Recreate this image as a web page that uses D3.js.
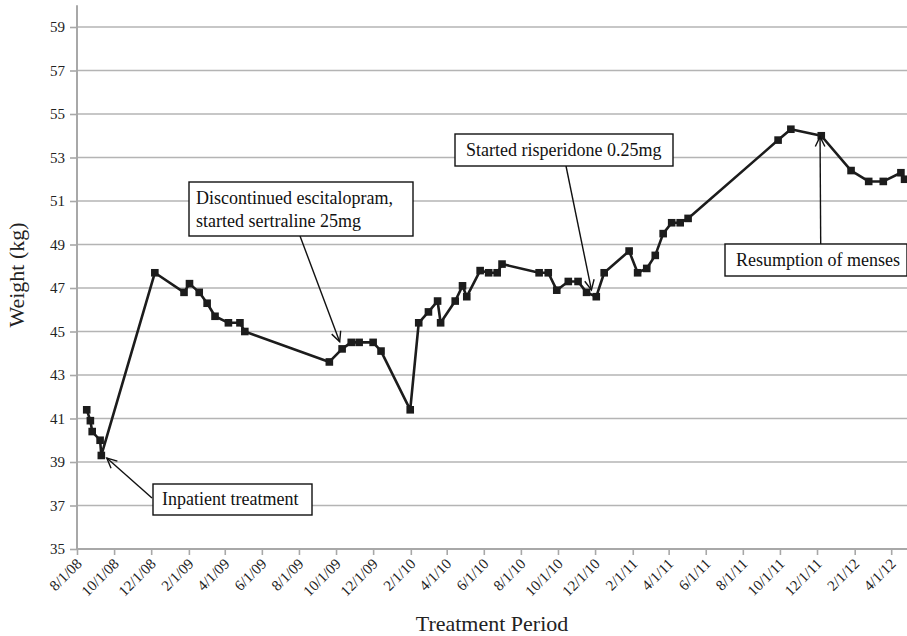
<!DOCTYPE html>
<html>
<head>
<meta charset="utf-8">
<script src="https://cdn.jsdelivr.net/npm/d3@7"></script>
<style>
  html, body { margin: 0; padding: 0; background: #fff; }
  svg { display: block; font-family: "Liberation Serif", "Times New Roman", serif; }
  svg text { font-family: "Liberation Serif", "Times New Roman", serif; }
</style>
</head>
<body>
<svg id="chart" width="907" height="636"></svg>
<script>
// ---- Data ----
const dates = ["2008-08-17","2008-08-23","2008-08-26","2008-09-08","2008-09-10","2008-12-07",
  "2009-01-24","2009-02-02","2009-02-18","2009-03-03","2009-03-16","2009-04-07","2009-04-26","2009-05-04",
  "2009-09-20","2009-10-11","2009-10-26","2009-11-08","2009-12-01","2009-12-14",
  "2010-01-31","2010-02-14","2010-03-02","2010-03-17","2010-03-22","2010-04-15","2010-04-27","2010-05-04",
  "2010-05-26","2010-06-09","2010-06-23","2010-07-01","2010-08-31","2010-09-15","2010-09-29","2010-10-18",
  "2010-11-03","2010-11-17","2010-12-03","2010-12-16",
  "2011-01-26","2011-02-09","2011-02-24","2011-03-10","2011-03-23","2011-04-06","2011-04-20","2011-05-03",
  "2011-09-28","2011-10-19","2011-12-08",
  "2012-01-26","2012-02-24","2012-03-19","2012-04-17","2012-04-23"];
const weights = [41.4,40.9,40.4,40.0,39.3,47.7,
  46.8,47.2,46.8,46.3,45.7,45.4,45.4,45.0,
  43.6,44.2,44.5,44.5,44.5,44.1,
  41.4,45.4,45.9,46.4,45.4,46.4,47.1,46.6,
  47.8,47.7,47.7,48.1,47.7,47.7,46.9,47.3,
  47.3,46.8,46.6,47.7,
  48.7,47.7,47.9,48.5,49.5,50.0,50.0,50.2,
  53.8,54.3,54.0,
  52.4,51.9,51.9,52.3,52.0];
const xTickDates = ["2008-08-01","2008-10-01","2008-12-01","2009-02-01","2009-04-01","2009-06-01",
  "2009-08-01","2009-10-01","2009-12-01","2010-02-01","2010-04-01","2010-06-01","2010-08-01",
  "2010-10-01","2010-12-01","2011-02-01","2011-04-01","2011-06-01","2011-08-01","2011-10-01",
  "2011-12-01","2012-02-01","2012-04-01"];
const yTicks = [35,37,39,41,43,45,47,49,51,53,55,57,59];
const xTitle = "Treatment Period";
const yTitle = "Weight (kg)";
const annotTexts = [["Inpatient treatment"], ["Discontinued escitalopram,", "started sertraline 25mg"],
  ["Started risperidone 0.25mg"], ["Resumption of menses"]];
const annotTipDates = ["2008-09-19", "2009-10-07", "2010-11-25", "2011-12-06"];
const annotTipWeights = [39.18, 44.53, 46.91, 53.96];

// ---- Layout ----
const FONT = "Liberation Serif, Times New Roman, serif";
const parse = d3.timeParse("%Y-%m-%d");
const fmt = d3.timeFormat("%-m/%-d/%y");
const svg = d3.select("#chart");
const x = d3.scaleTime().domain([parse("2008-08-01"), parse("2012-04-27")]).range([77, 907]);
const y = d3.scaleLinear().domain([35, 60]).range([549, 5.25]);
const points = dates.map((d, i) => ({ date: parse(d), w: weights[i] }));

const gridColor = "#b4b4b4";
const axisColor = "#a8a8a8";

// gridlines
svg.append("g").selectAll("line").data(yTicks.filter(t => t > 35)).join("line")
  .attr("x1", 77).attr("x2", 907)
  .attr("y1", d => y(d)).attr("y2", d => y(d))
  .attr("stroke", gridColor).attr("stroke-width", 1.6);

// y axis
const yAxis = d3.axisLeft(y).tickValues(yTicks).tickSize(7).tickPadding(5).tickFormat(d3.format("d"));
const gy = svg.append("g").attr("transform", "translate(77,0)").call(yAxis)
  .attr("font-family", FONT).attr("font-size", 15);
gy.select(".domain").attr("stroke", axisColor).attr("stroke-width", 2).attr("d", `M0,${y(60)}V${y(35)}`);
gy.selectAll(".tick line").attr("stroke", axisColor).attr("stroke-width", 1.6);
gy.selectAll(".tick text").attr("fill", "#222");

// x axis
const xAxis = d3.axisBottom(x).tickValues(xTickDates.map(parse)).tickSize(6).tickFormat("");
const gx = svg.append("g").attr("transform", `translate(0,${y(35)})`).call(xAxis);
gx.select(".domain").attr("stroke", axisColor).attr("stroke-width", 2).attr("d", `M77,0H907`);
gx.selectAll(".tick line").attr("stroke", axisColor).attr("stroke-width", 1.6);
svg.append("g").attr("font-family", FONT).selectAll("text").data(xTickDates.map(parse)).join("text")
  .attr("transform", d => `translate(${x(d) + 2},${y(35) + 12}) rotate(-45)`)
  .attr("text-anchor", "end").attr("dy", "0.35em")
  .attr("font-size", 15).attr("fill", "#222")
  .text(d => fmt(d));

// axis titles
svg.append("text").attr("x", 492).attr("y", 631).attr("text-anchor", "middle")
  .attr("font-size", 22).attr("fill", "#222").text(xTitle);
svg.append("text").attr("transform", "translate(24,275) rotate(-90)").attr("text-anchor", "middle")
  .attr("font-size", 22).attr("fill", "#222").text(yTitle);

// line + markers
const line = d3.line().x(d => x(d.date)).y(d => y(d.w));
svg.append("path").datum(points).attr("d", line)
  .attr("fill", "none").attr("stroke", "#1c1c1c").attr("stroke-width", 2.6).attr("stroke-linejoin", "round");
svg.append("g").selectAll("rect").data(points).join("rect")
  .attr("x", d => x(d.date) - 3.8).attr("y", d => y(d.w) - 3.8)
  .attr("width", 7.6).attr("height", 7.6).attr("fill", "#1c1c1c");

// annotations: boxes (pixel layout) + arrows to data tips
const boxes = [
  { x: 153, y: 484, w: 159, h: 31, tx: 162, ty: [505], start: [152, 498] },
  { x: 189, y: 182, w: 224, h: 54, tx: 196, ty: [204, 227], start: [300, 236] },
  { x: 455, y: 134, w: 218, h: 32, tx: 466, ty: [156], start: [566, 166] },
  { x: 725, y: 244, w: 182, h: 32, tx: 736, ty: [266], start: [820.7, 244] }
];
const ann = svg.append("g");
boxes.forEach((b, i) => {
  const tip = [x(parse(annotTipDates[i])), y(annotTipWeights[i])];
  const s = b.start;
  ann.append("line").attr("x1", s[0]).attr("y1", s[1]).attr("x2", tip[0]).attr("y2", tip[1])
    .attr("stroke", "#111").attr("stroke-width", 1.4);
  const ang = Math.atan2(s[1] - tip[1], s[0] - tip[0]);
  const L = 11, a = 0.45;
  const p1 = [tip[0] + L * Math.cos(ang + a), tip[1] + L * Math.sin(ang + a)];
  const p2 = [tip[0] + L * Math.cos(ang - a), tip[1] + L * Math.sin(ang - a)];
  ann.append("path").attr("d", `M${p1[0]},${p1[1]}L${tip[0]},${tip[1]}L${p2[0]},${p2[1]}`)
    .attr("fill", "none").attr("stroke", "#111").attr("stroke-width", 1.4);
  ann.append("rect").attr("x", b.x).attr("y", b.y).attr("width", b.w).attr("height", b.h)
    .attr("fill", "#fff").attr("stroke", "#111").attr("stroke-width", 1.4);
  annotTexts[i].forEach((t, j) => {
    ann.append("text").attr("x", b.tx).attr("y", b.ty[j]).attr("font-size", 18).attr("fill", "#111").text(t);
  });
});
</script>
</body>
</html>
